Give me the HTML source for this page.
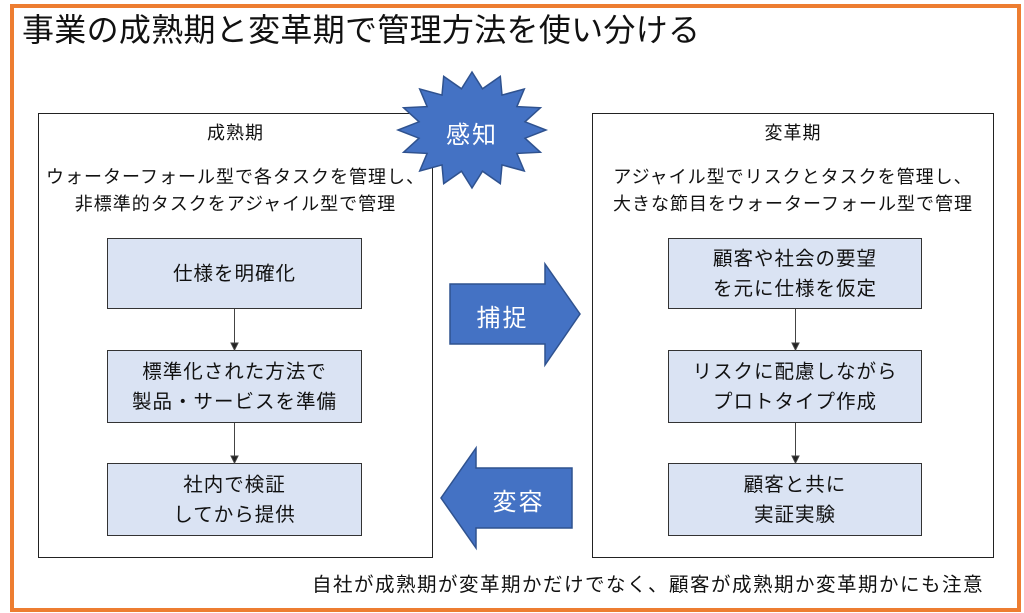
<!DOCTYPE html>
<html><head><meta charset="utf-8"><style>
body{margin:0;width:1024px;height:613px;background:#fff;position:relative;overflow:hidden;font-family:"Liberation Sans","Noto Sans CJK JP",sans-serif;color:#111}
.frame{position:absolute;left:10px;top:4px;width:1003px;height:600px;border:4px solid #ED7D31;box-sizing:content-box}
.t{position:absolute;white-space:nowrap}
.panel{position:absolute;border:1.5px solid #222;box-sizing:border-box}
.box{position:absolute;background:#DAE3F3;border:1.5px solid #333;box-sizing:border-box;display:flex;align-items:center;justify-content:center;text-align:center;font-size:19.5px;letter-spacing:1px;line-height:30px}
.pt{font-size:18px;letter-spacing:1px;line-height:27px}
</style></head><body>
<div class="frame"></div>
<div class="t" style="left:22px;top:10px;font-size:32px;letter-spacing:0.3px;line-height:40px">事業の成熟期と変革期で管理方法を使い分ける</div>

<div class="panel" style="left:38px;top:113px;width:395px;height:445px"></div>
<div class="panel" style="left:592px;top:113px;width:402px;height:445px"></div>

<div class="t pt" style="left:38px;width:395px;text-align:center;top:120px">成熟期</div>
<div class="t pt" style="left:38px;width:395px;text-align:center;top:164px">ウォーターフォール型で各タスクを管理し、<br>非標準的タスクをアジャイル型で管理</div>
<div class="t pt" style="left:592px;width:402px;text-align:center;top:120px">変革期</div>
<div class="t pt" style="left:592px;width:402px;text-align:center;top:164px">アジャイル型でリスクとタスクを管理し、<br>大きな節目をウォーターフォール型で管理</div>

<div class="box" style="left:107px;top:238px;width:255px;height:71px">仕様を明確化</div>
<div class="box" style="left:107px;top:350px;width:255px;height:73px">標準化された方法で<br>製品・サービスを準備</div>
<div class="box" style="left:107px;top:463px;width:255px;height:73px">社内で検証<br>してから提供</div>
<div class="box" style="left:668px;top:238px;width:254px;height:71px">顧客や社会の要望<br>を元に仕様を仮定</div>
<div class="box" style="left:668px;top:350px;width:254px;height:73px">リスクに配慮しながら<br>プロトタイプ作成</div>
<div class="box" style="left:668px;top:463px;width:254px;height:73px">顧客と共に<br>実証実験</div>

<svg style="position:absolute;left:0;top:0" width="1024" height="613">
<g stroke="#444" stroke-width="1" fill="#222">
<line x1="234.5" y1="309" x2="234.5" y2="344"/><polygon points="231,343 238,343 234.5,350"/>
<line x1="234.5" y1="423" x2="234.5" y2="457"/><polygon points="231,456 238,456 234.5,463"/>
<line x1="795.5" y1="309" x2="795.5" y2="344"/><polygon points="792,343 799,343 795.5,350"/>
<line x1="795.5" y1="423" x2="795.5" y2="457"/><polygon points="792,456 799,456 795.5,463"/>
</g>
<g fill="#4472C4" stroke="#2F528F" stroke-width="1.5">
<polygon points="450,284 545,284 545,264 580,314 545,365 545,344 450,344"/>
<polygon points="572,468 476,468 476,448 441,498 476,548 476,528 572,528"/>
<polygon points="472,72 482.5,88.8 500.3,76.4 502,95.1 524.3,89 516.9,106.6 540.4,107.8 525,121.8 546,130 525,138.2 540.4,152.2 516.9,153.4 524.3,171 502,164.9 500.3,183.6 482.5,171.2 472,188 461.5,171.2 443.7,183.6 442,164.9 419.7,171 427.1,153.4 403.6,152.2 419,138.2 398,130 419,121.8 403.6,107.8 427.1,106.6 419.7,89 442,95.1 443.7,76.4 461.5,88.8"/>
</g>
</svg>
<div class="t" style="left:432px;width:80px;text-align:center;top:115px;font-size:24px;letter-spacing:2px;color:#fff">感知</div>
<div class="t" style="left:460px;width:85px;text-align:center;top:298px;font-size:24px;letter-spacing:2px;color:#fff">捕捉</div>
<div class="t" style="left:476px;width:85px;text-align:center;top:482px;font-size:24px;letter-spacing:2px;color:#fff">変容</div>

<div class="t" style="left:312px;top:568px;font-size:19.5px;letter-spacing:1.5px">自社が成熟期が変革期かだけでなく、顧客が成熟期か変革期かにも注意</div>
</body></html>
